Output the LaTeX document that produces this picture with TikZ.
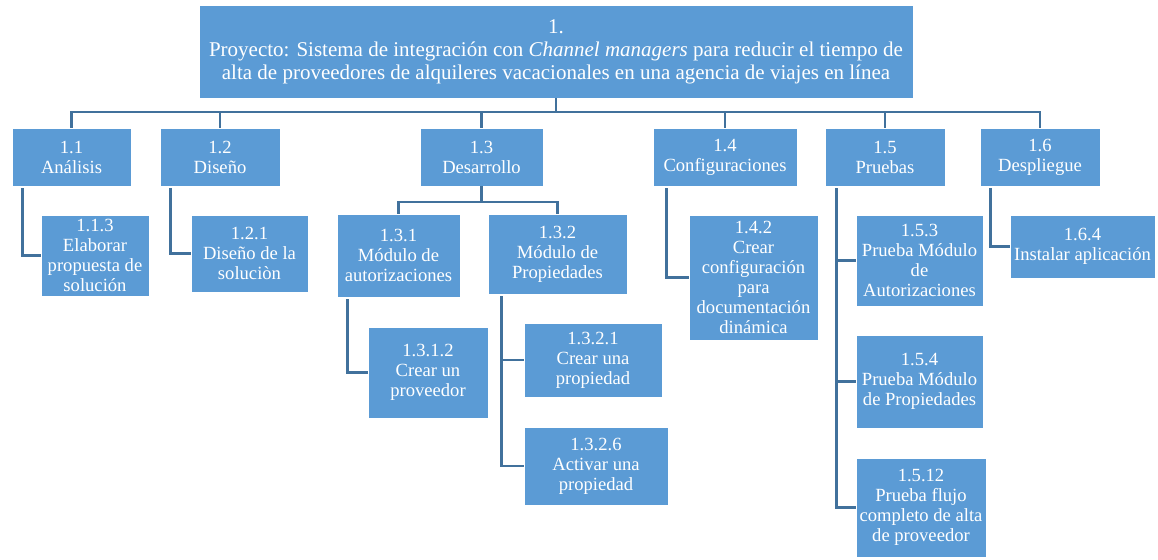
\documentclass[tikz,border=0pt]{standalone}
\usepackage{fontspec}
\setmainfont{Liberation Serif}
\definecolor{boxfill}{HTML}{5B9BD5}
\definecolor{linkcol}{HTML}{41719C}
\begin{document}
\begin{tikzpicture}[x=1pt,y=-1pt,
  wbs/.style={rectangle, fill=boxfill, draw=white, line width=0.8pt,
    text=white, align=center, inner sep=1pt,
    font=\fontsize{18.6}{20}\selectfont},
  link/.style={draw=linkcol, line width=2.6pt, line cap=butt}]
\useasboundingbox (0,0) rectangle (1158,559);

% project root
\node[wbs, minimum width=714pt, minimum height=93pt,
  font=\fontsize{21}{23}\selectfont] (top) at (556,51.5)
  {1.\\Proyecto: Sistema de integración con \textit{Channel managers} para reducir el tiempo de\\alta de proveedores de alquileres vacacionales en una agencia de viajes en línea};

% first level
\node[wbs, minimum width=119pt, minimum height=58pt] (n11) at (71.5,157) {1.1\\Análisis};
\node[wbs, minimum width=120pt, minimum height=58pt] (n12) at (220,157) {1.2\\Diseño};
\node[wbs, minimum width=123pt, minimum height=58pt] (n13) at (481.5,157) {1.3\\Desarrollo};
\node[wbs, minimum width=144pt, minimum height=58pt] (n14) at (725,157) {1.4\\Configuraciones};
\node[wbs, minimum width=120pt, minimum height=58pt] (n15) at (885,157) {1.5\\Pruebas};
\node[wbs, minimum width=120pt, minimum height=58pt] (n16) at (1040,157) {1.6\\Despliegue};

% work packages
\node[wbs, minimum width=108pt, minimum height=81pt] (n113) at (95,255.5) {1.1.3\\Elaborar\\propuesta de\\solución};
\node[wbs, minimum width=117pt, minimum height=77pt] (n121) at (249.5,253.5) {1.2.1\\Diseño de la\\soluciòn};
\node[wbs, minimum width=123pt, minimum height=83pt] (n131) at (398.5,255.5) {1.3.1\\Módulo de\\autorizaciones};
\node[wbs, minimum width=139pt, minimum height=80pt] (n132) at (557.5,254) {1.3.2\\Módulo de\\Propiedades};
\node[wbs, minimum width=120pt, minimum height=91pt] (n1312) at (428,372.5) {1.3.1.2\\Crear un\\proveedor};
\node[wbs, minimum width=138pt, minimum height=74pt] (n1321) at (593,360) {1.3.2.1\\Crear una\\propiedad};
\node[wbs, minimum width=144pt, minimum height=78pt] (n1326) at (596,466) {1.3.2.6\\Activar una\\propiedad};
\node[wbs, minimum width=129pt, minimum height=125pt] (n142) at (753.5,277.5) {1.4.2\\Crear\\configuración\\para\\documentación\\dinámica};
\node[wbs, minimum width=127pt, minimum height=91pt] (n153) at (919.5,260.5) {1.5.3\\Prueba Módulo\\de\\Autorizaciones};
\node[wbs, minimum width=127pt, minimum height=93pt] (n154) at (919.5,381.5) {1.5.4\\Prueba Módulo\\de Propiedades};
\node[wbs, minimum width=130pt, minimum height=99pt] (n1512) at (921,507.5) {1.5.12\\Prueba flujo\\completo de alta\\de proveedor};
\node[wbs, minimum width=145pt, minimum height=63pt] (n164) at (1082.5,246.5) {1.6.4\\Instalar aplicación};

% bus under the root
\coordinate (bus) at (0,112);
\draw[link] (top.south) -- (top.south |- bus);
\foreach \n in {n11,n12,n13,n14,n15,n16}
  \draw[link] (\n.north) |- (top.south |- bus);

% bus under 1.3
\coordinate (subbus) at (0,202);
\draw[link] (n13.south) -- (n13.south |- subbus);
\draw[link] (n131.north) |- (n13.south |- subbus);
\draw[link] (n132.north) |- (n13.south |- subbus);

% side links to work packages
\draw[link] ([xshift=11pt,yshift=-2pt]n11.south west) |- (n113.west);
\draw[link] ([xshift=11pt,yshift=-2pt]n12.south west) |- (n121.west);
\draw[link] ([xshift=11pt,yshift=-2pt]n131.south west) |- (n1312.west);
\draw[link] ([xshift=14pt,yshift=-2pt]n132.south west) |- (n1321.west);
\draw[link] ([xshift=14pt,yshift=-2pt]n132.south west) |- (n1326.west);
\draw[link] ([xshift=14pt,yshift=-2pt]n14.south west) |- (n142.west);
\draw[link] ([xshift=12pt,yshift=-2pt]n15.south west) |- (n153.west);
\draw[link] ([xshift=12pt,yshift=-2pt]n15.south west) |- (n154.west);
\draw[link] ([xshift=12pt,yshift=-2pt]n15.south west) |- (n1512.west);
\draw[link] ([xshift=11pt,yshift=-2pt]n16.south west) |- (n164.west);
\end{tikzpicture}
\end{document}
